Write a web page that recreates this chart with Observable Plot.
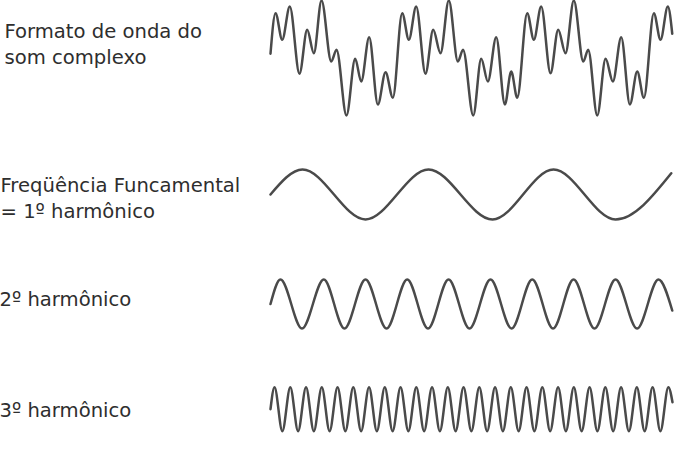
<!DOCTYPE html>
<html>
<head>
<meta charset="utf-8">
<script src="https://cdn.jsdelivr.net/npm/d3@7"></script>
<script src="https://cdn.jsdelivr.net/npm/@observablehq/plot@0.6"></script>
<style>
  html, body { margin: 0; padding: 0; background: #fff; }
  #chart { width: 676px; height: 453px; overflow: hidden; background: #fff; }
  #chart svg { display: block; }
</style>
</head>
<body>
<div id="chart"></div>
<script>
// Row labels (one per waveform)
const labels = [
  "Formato de onda do\nsom complexo",
  "Freqüência Funcamental\n= 1º harmônico",
  "2º harmônico",
  "3º harmônico"
];

// Time in units of one fundamental period; amplitude in units of the fundamental's amplitude.
// Complex sound wave: start, every peak/trough, end
const complexTime = [0, 0.040, 0.093, 0.153, 0.230, 0.291, 0.344, 0.405, 0.482, 0.524, 0.603, 0.672, 0.720, 0.783, 0.852, 0.913, 0.971,
  1.045, 1.098, 1.156, 1.230, 1.291, 1.349, 1.415, 1.487, 1.528, 1.609, 1.672, 1.725, 1.791, 1.860, 1.910, 1.958,
  2.037, 2.090, 2.148, 2.222, 2.283, 2.341, 2.407, 2.482, 2.521, 2.593, 2.659, 2.717, 2.783, 2.852, 2.910, 2.963,
  3.042, 3.095, 3.153, 3.188];
const complexAmp = [0.17, 1.79, 0.73, 2.06, -0.63, 1.13, 0.19, 2.30, -0.14, 0.33, -2.30, -0.03, -0.94, 0.83, -1.86, -0.57, -1.59,
  1.79, 0.73, 2.06, -0.63, 1.13, 0.19, 2.30, -0.14, 0.33, -2.30, -0.03, -0.94, 0.83, -1.86, -0.54, -1.59,
  1.79, 0.73, 2.06, -0.61, 1.13, 0.19, 2.30, -0.14, 0.33, -2.30, -0.03, -0.94, 0.83, -1.86, -0.54, -1.59,
  1.79, 0.73, 2.06, 0.97];

// Fundamental (1st harmonic)
const fundamentalTime = [0, 0.254, 0.754, 1.254, 1.762, 2.246, 2.738, 3.180];
const fundamentalAmp  = [0, 1, -1, 1, -1, 1, -1, 0.85];

// 2nd harmonic
const secondTime = [0, 0.079, 0.250, 0.423, 0.587, 0.754, 0.921, 1.085, 1.250, 1.413, 1.579, 1.746, 1.913,
  2.077, 2.242, 2.405, 2.571, 2.738, 2.909, 3.079, 3.188];
const secondAmp = [0, 0.98, -0.98, 0.98, -0.98, 0.98, -0.98, 0.98, -0.98, 0.98, -0.98, 0.98, -0.98,
  0.98, -0.98, 0.98, -0.98, 0.98, -0.98, 0.98, -0.26];

// 3rd harmonic
const thirdTime = [0, 0.032, 0.094, 0.157, 0.219, 0.282, 0.344, 0.407, 0.469, 0.532, 0.594, 0.657, 0.719, 0.782, 0.844, 0.907, 0.969,
  1.032, 1.094, 1.157, 1.219, 1.282, 1.344, 1.407, 1.469, 1.532, 1.594, 1.657, 1.719, 1.782, 1.844, 1.907, 1.969,
  2.032, 2.094, 2.157, 2.219, 2.282, 2.344, 2.407, 2.469, 2.532, 2.594, 2.657, 2.719, 2.782, 2.844, 2.907, 2.969,
  3.032, 3.094, 3.157, 3.190];
const thirdAmp = [0, 0.88, -0.88, 0.88, -0.88, 0.88, -0.88, 0.88, -0.88, 0.88, -0.88, 0.88, -0.88, 0.88, -0.88, 0.88, -0.88,
  0.88, -0.88, 0.88, -0.88, 0.88, -0.88, 0.88, -0.88, 0.88, -0.88, 0.88, -0.88, 0.88, -0.88, 0.88, -0.88,
  0.88, -0.88, 0.88, -0.88, 0.88, -0.88, 0.88, -0.88, 0.88, -0.88, 0.88, -0.88, 0.88, -0.88, 0.88, -0.88,
  0.88, -0.88, 0.88, 0.28];

// Layout of the four stacked panels
const panels = [
  {time: complexTime,     amp: complexAmp,     height: 130, yDomain: [-2.9, 2.3],    dx: -266, dy: 63.5},
  {time: fundamentalTime, amp: fundamentalAmp, height: 120, yDomain: [-2.24, 2.56],  dx: -270, dy: 87.5},
  {time: secondTime,      amp: secondAmp,      height: 105, yDomain: [-2.06, 2.14],  dx: -271, dy: 55},
  {time: thirdTime,       amp: thirdAmp,       height: 98,  yDomain: [-1.772, 2.148], dx: -271, dy: 61}
];

const chart = document.getElementById("chart");
panels.forEach((p, i) => {
  const rows = p.time.map((t, j) => ({t, a: p.amp[j]}));
  const svg = Plot.plot({
    width: 676,
    height: p.height,
    marginLeft: 270,
    marginRight: 4,
    marginTop: 0,
    marginBottom: 0,
    style: {overflow: "hidden", background: "#fff"},
    x: {domain: [0, 3.19], axis: null},
    y: {domain: p.yDomain, axis: null},
    marks: [
      Plot.line(rows, {x: "t", y: "a", curve: "monotone-x", stroke: "#4a4a4a", strokeWidth: 2.5}),
      Plot.text([labels[i]], {
        text: d => d,
        frameAnchor: "top-left",
        textAnchor: "start",
        lineAnchor: "bottom",
        lineHeight: 1.34,
        dx: p.dx,
        dy: p.dy,
        fontSize: 19.6,
        fontFamily: "DejaVu Sans",
        fill: "#2e2e2e"
      })
    ]
  });
  chart.appendChild(svg);
});
</script>
</body>
</html>
